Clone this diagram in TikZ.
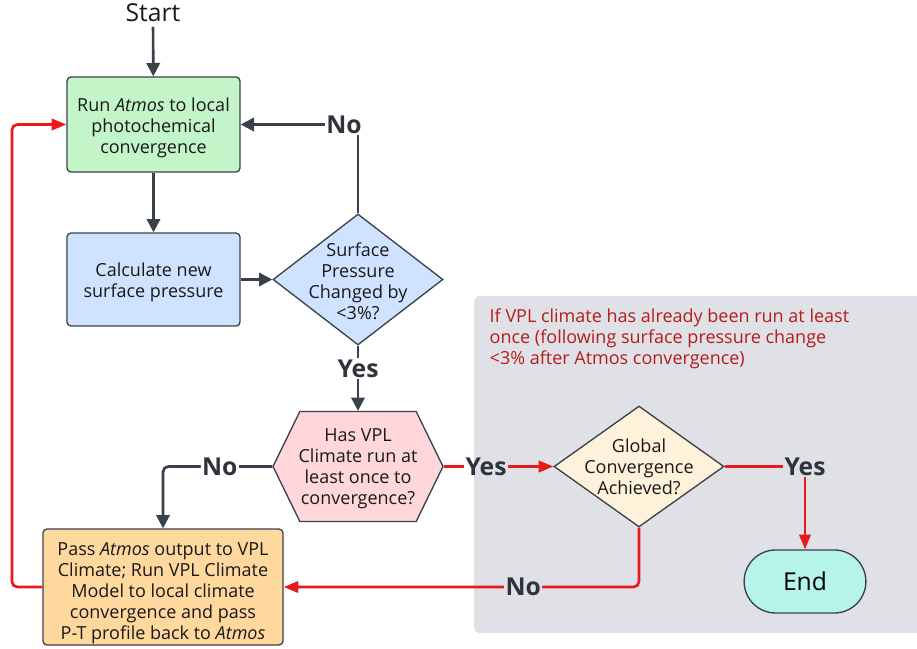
\documentclass[tikz,border=0pt]{standalone}
\usepackage{fontspec}
\setmainfont{Open Sans}
\usetikzlibrary{positioning,arrows.meta,shapes.geometric,shapes.symbols,shapes.misc}
\definecolor{lineC}{RGB}{59,65,75}
\definecolor{loopC}{RGB}{232,26,26}
\definecolor{noteC}{RGB}{183,28,28}
\definecolor{atmosC}{RGB}{195,245,200}
\definecolor{pressC}{RGB}{207,226,255}
\definecolor{vplC}{RGB}{255,216,158}
\definecolor{hasC}{RGB}{255,215,218}
\definecolor{globC}{RGB}{255,242,218}
\definecolor{endC}{RGB}{182,243,235}
\definecolor{panelC}{RGB}{223,225,230}
\tikzset{
	body/.style={font=\fontsize{13.5}{15.75}\selectfont, text=black!90, align=center},
	box/.style={draw=lineC, rounded corners=3pt, line width=1pt, inner sep=0pt},
	decision/.style={diamond, draw=lineC, line width=1pt, inner sep=0pt},
	hexbox/.style={signal, signal to=west and east, signal pointer angle=128,
		draw=lineC, line width=1pt, inner sep=0pt},
	flow/.style={-{Triangle[length=10pt,width=10pt]}, line width=2pt, draw=lineC},
	redflow/.style={-{Triangle[length=11pt,width=8.5pt]}, line width=2pt, draw=loopC},
	lab/.style={font=\fontsize{18.5}{18.5}\selectfont\bfseries, text=lineC!80!black,
		fill=white, inner sep=1pt},
	labP/.style={lab, fill=panelC},
}

\begin{document}
\begin{tikzpicture}[x=0.75pt, y=-0.75pt]
	\useasboundingbox (0,0) rectangle (917,649);
	
	% ================= Panel for the global check =================
	\fill[panelC, rounded corners=4pt] (474,296) rectangle (925,633);
	\node[body, anchor=north west, align=left, text=noteC] (note) at (485,304)
	{If VPL climate has already been run at least\\
		once (following surface pressure change\\
		<3\% after Atmos convergence)};
	
	% ================= Atmos loop =================
	\node[font=\fontsize{18.5}{18.5}\selectfont, text=black!90] (start) at (153,13) {Start};
	
	\node[box, fill=atmosC, minimum width=129.75pt, minimum height=71.25pt] (atmos) at (153.5,124.5) {};
	\node[body] (atmosT) at (153.5,127.5) {Run \textit{Atmos} to local\\photochemical\\convergence};
	
	\node[box, fill=pressC, minimum width=129.75pt, minimum height=69.75pt] (calc) at (153.5,279.5) {};
	\node[body] (calcT) at (153.5,282) {Calculate new\\surface pressure};
	
	\node[decision, fill=pressC, minimum width=127.5pt, minimum height=98.25pt] (press) at (358,279.5) {};
	\node[body] (pressT) at (358,281.5) {Surface\\Pressure\\Changed by\\<3\%?};
	
	\draw[flow] (start) -- (atmos);
	\draw[flow] (atmos) -- (calc);
	\draw[flow] (calc) -- (press);
	\draw[flow] (press.north) |- node[lab, pos=0.56] {No} (atmos.east);
	
	% ================= Climate model =================
	\node[hexbox, fill=hasC, minimum width=127.5pt, minimum height=82.5pt] (has) at (358,466.5) {};
	\node[body] (hasT) at (358,468.5) {Has VPL\\Climate run at\\least once to\\convergence?};
	
	\node[box, fill=vplC, minimum width=180pt, minimum height=87pt] (vpl) at (163,587) {};
	\node[body] (vplT) at (163,593) {Pass \textit{Atmos} output to VPL\\Climate; Run VPL Climate\\Model to local climate\\convergence and pass\\P-T profile back to \textit{Atmos}};
	
	\draw[flow] (press.south) -- node[lab, pos=0.35] {Yes} (has.north);
	\draw[flow, rounded corners=4pt] (has.west) -| node[lab, pos=0.24] {No} (vpl.north);
	
	\coordinate (loopL) at (12,587);
	\draw[redflow, rounded corners=4pt] (vpl.west) -- (loopL) |- (atmos.west);
	
	% ================= Global convergence =================
	\node[decision, fill=globC, minimum width=127.5pt, minimum height=90.75pt] (glob) at (639,466.5) {};
	\node[body] (globT) at (glob) {Global\\Convergence\\Achieved?};
	
	\node[rounded rectangle, draw=lineC, line width=1pt, fill=endC, minimum width=98pt,
	minimum height=47.25pt, font=\fontsize{18.5}{18.5}\selectfont] (end) at (805,581.5) {End};
	
	\node[lab, fill=none] (yesG) at (486,466.5) {Yes};
	\draw[line width=2pt, loopC] (has.east) -- (yesG);
	\draw[redflow] (yesG) -- (glob.west);
	\draw[redflow] (glob.east) -| node[labP, pos=0.5] {Yes} (end.north);
	\draw[redflow, rounded corners=4pt] (glob.south) |- node[labP, pos=0.663] {No} (vpl.east);
	
\end{tikzpicture}
\end{document}
